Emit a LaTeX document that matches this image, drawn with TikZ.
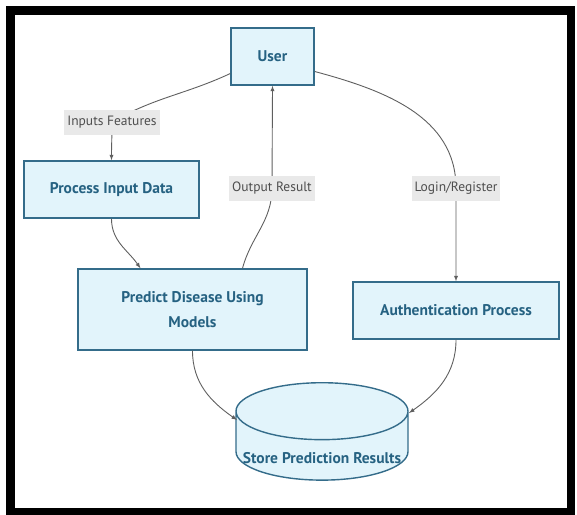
\documentclass[tikz,border=0pt]{standalone}
\usepackage{fontspec}
\setmainfont{PT Sans}
\usetikzlibrary{shapes.geometric}
\definecolor{boxfill}{RGB}{226,244,251}
\definecolor{boxline}{RGB}{52,108,138}
\definecolor{boxtext}{RGB}{38,98,130}
\definecolor{lblfill}{RGB}{233,233,233}
\definecolor{lbltext}{RGB}{78,78,78}
\definecolor{edge}{RGB}{95,95,95}
\tikzset{
  blocktext/.style={text=boxtext, font=\fontsize{15.5}{25}\selectfont\bfseries, align=center},
  block/.style={draw=boxline, fill=boxfill, line width=1.4pt, blocktext, inner sep=0pt},
  lbl/.style={fill=lblfill, text=lbltext, font=\fontsize{13.5}{15}\selectfont,
    inner xsep=3pt, minimum height=25pt},
  flow/.style={draw=edge, line width=0.9pt, -latex},
}

\begin{document}
\begin{tikzpicture}[x=1pt,y=-1pt]
    \useasboundingbox (0,0) rectangle (577,514);

    % Frame
    \draw[line width=8.5pt] (10.3,10.5) rectangle (571,512);

    % Blocks
    \node[block, minimum width=83pt, minimum height=57pt] (user) at (272.5,56.5) {User};
    \node[block, minimum width=175pt, minimum height=57pt] (proc) at (111.5,189.5) {Process Input Data};
    \node[block, minimum width=229pt, minimum height=81pt] (pred) at (192.5,309.5) {Predict Disease Using\\Models};
    \node[block, minimum width=206pt, minimum height=57pt] (auth) at (456,310.5) {Authentication Process};
    \node[block, cylinder, shape border rotate=90, aspect=0.36,
          minimum width=172pt, minimum height=88pt] (store) at (322,446) {\phantom{Store Prediction Results}};
    \node[blocktext] (storetxt) at ([yshift=-12pt]store.center) {Store Prediction Results};

    % Label spots and cylinder ends
    \coordinate (inf) at (112,122);
    \coordinate (outr) at (272,188);
    \coordinate (logr) at (456,188);
    \coordinate (stl) at (237,420);
    \coordinate (str) at (409,413);

    % Connectors
    \draw[flow] ([yshift=-17pt]user.west) to[out=205,in=30] (inf) to[out=-90,in=90] (proc.north);
    \draw[flow] (proc.south) to[out=-90,in=125] ([xshift=-52pt]pred.north);
    \draw[flow] ([xshift=50pt]pred.north) to[out=75,in=-90] (outr) -- (user.south);
    \draw[flow] ([yshift=-15pt]user.east) to[out=-15,in=90] (logr) -- (auth.north);
    \draw[flow] (pred.south) to[out=-90,in=145] (stl);
    \draw[flow] (auth.south) to[out=-90,in=35] (str);

    % Edge labels
    \node[lbl] (inflbl) at (inf) {Inputs Features};
    \node[lbl] (outlbl) at (outr) {Output Result};
    \node[lbl] (loglbl) at (logr) {Login/Register};
\end{tikzpicture}
\end{document}
